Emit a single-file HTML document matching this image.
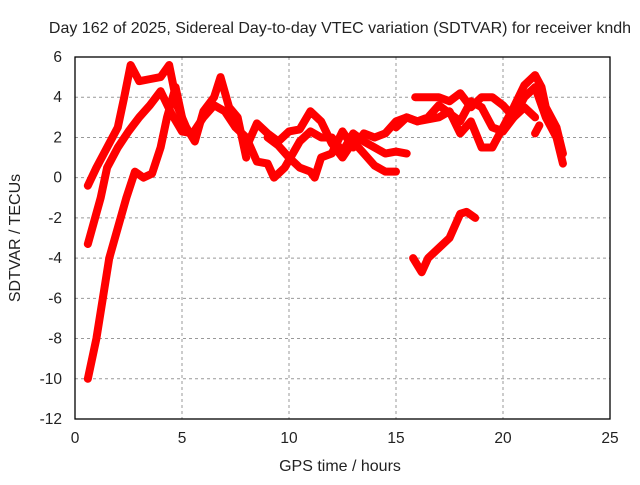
<!DOCTYPE html>
<html><head><meta charset="utf-8"><style>
body{margin:0;background:#fff}
svg text{font-family:"Liberation Sans",sans-serif;font-size:15.5px;fill:#222}
</style></head><body>
<svg id="chart" width="640" height="480" xmlns="http://www.w3.org/2000/svg">
<text x="340" y="33" text-anchor="middle" style="font-size:16px">Day 162 of 2025, Sidereal Day-to-day VTEC variation (SDTVAR) for receiver kndh</text>
<g id="grid"></g>
<g id="series"></g>
<rect x="75" y="57" width="535" height="362" fill="none" stroke="#000" stroke-width="1.3"/>
<g id="ticks"></g>
<text x="340" y="471" text-anchor="middle" style="font-size:16px">GPS time / hours</text>
<text transform="translate(20,238) rotate(-90)" text-anchor="middle" style="font-size:16px">SDTVAR / TECUs</text>
</svg>
<script>
const xTicks=[0,5,10,15,20,25];
const yTicks=[6,4,2,0,-2,-4,-6,-8,-10,-12];
const traceA=[[0.6,-0.4],[1,0.5],[1.5,1.5],[2,2.5],[2.3,4],[2.6,5.6],[3,4.8],[3.5,4.9],[4,5],[4.4,5.6],[4.8,3.5],[5.2,2.5],[5.6,1.8],[6,3.3],[6.5,4],[6.8,5],[7.2,3.5],[7.6,3],[8,1]];
const traceB=[[0.6,-3.3],[1.2,-1],[1.5,0.5],[2,1.5],[2.5,2.3],[3,3],[3.5,3.6],[4,4.3],[4.5,3.2],[5,2.3],[5.5,2.2],[6,3],[6.5,3.6],[7,3.3],[7.5,2.5],[8,2]];
const traceC=[[0.6,-10],[1,-8],[1.3,-6],[1.6,-4],[2,-2.5],[2.4,-1],[2.8,0.3],[3.2,0],[3.6,0.2],[4,1.5],[4.3,3],[4.7,4.5],[5,3]];
const traceD=[[8,1.5],[8.5,2.7],[9,2.2],[9.5,1.8],[10,2.3],[10.5,2.4],[11,3.3],[11.5,2.8],[12,1.7],[12.5,1],[13,1.8],[13.5,1.2],[14,0.6],[14.5,0.3],[15,0.3]];
const traceE=[[8,2],[8.5,0.8],[9,0.7],[9.3,0],[9.8,0.5],[10.5,1.8],[11,2.3],[11.5,2],[12,2],[12.5,1.3],[13,2.2],[13.5,1.8],[14,1.5],[14.5,1.2],[15,1.3],[15.5,1.2]];
const traceF=[[9,2],[9.5,1.6],[10,1],[10.5,0.5],[11,0.3],[11.2,0],[11.5,1],[12,1.2],[12.5,2.3],[13,1.5],[13.5,2.2],[14,2],[14.5,2.2],[15,2.8],[15.5,3],[16,2.8],[16.5,3],[17,3.6],[17.5,3.2],[18,2.8],[18.5,3.8],[19,3.5]];
const traceG=[[15.9,4],[16.5,4],[17,4],[17.5,3.8],[18,4.2],[18.5,3.5],[19,4],[19.5,4],[20,3.6],[20.5,3],[21,3.5],[21.5,3]];
const traceH=[[15,2.5],[15.5,3],[16,2.8],[17,3],[17.5,3.3],[18,2.2],[18.5,2.8],[19,1.5],[19.5,1.5],[20,2.5],[20.5,3.5],[21,4.6],[21.5,5.1],[21.8,4.5],[22,3.5],[22.5,2.5],[22.8,1.2]];
const traceI=[[19,3.5],[19.5,2.5],[20,2.3],[20.5,3],[21,4],[21.5,4.5],[22,3],[22.5,2],[22.8,0.7]];
const traceJ=[[15.8,-4],[16.2,-4.7],[16.5,-4],[17,-3.5],[17.5,-3],[18,-1.8],[18.3,-1.7],[18.7,-2]];
const traceK=[[21.5,2.2],[21.7,2.6]];
const traces=[traceA,traceB,traceC,traceD,traceE,traceF,traceG,traceH,traceI,traceJ,traceK];
const NS="http://www.w3.org/2000/svg";
const X=v=>75+v*(535/25);
const Y=v=>57+(6-v)*(362/18);
const grid=document.getElementById('grid'),ticks=document.getElementById('ticks'),ser=document.getElementById('series');
function mk(tag,attrs,parent){const e=document.createElementNS(NS,tag);for(const k in attrs)e.setAttribute(k,attrs[k]);parent.appendChild(e);return e;}
xTicks.forEach(t=>{
  if(t>0&&t<25){const g=mk('line',{x1:X(t),x2:X(t),y1:57,y2:419,stroke:'#999','stroke-dasharray':'3,3'},grid);
  
  }
  const l=mk('text',{x:X(t),y:443,'text-anchor':'middle'},ticks);l.textContent=t;
  
  
});
yTicks.forEach(t=>{
  if(t<6&&t>-12){const g=mk('line',{x1:75,x2:610,y1:Y(t),y2:Y(t),stroke:'#999','stroke-dasharray':'3,3'},grid);
  
  }
  const l=mk('text',{x:62,y:Y(t)+5,'text-anchor':'end'},ticks);l.textContent=t;
  
  
});
traces.forEach(tr=>{
  const p=mk('polyline',{points:tr.map(d=>X(d[0])+','+Y(d[1])).join(' '),fill:'none',stroke:'#f00','stroke-width':8,'stroke-linejoin':'round','stroke-linecap':'round'},ser);
  
  
});
</script>
</body></html>
